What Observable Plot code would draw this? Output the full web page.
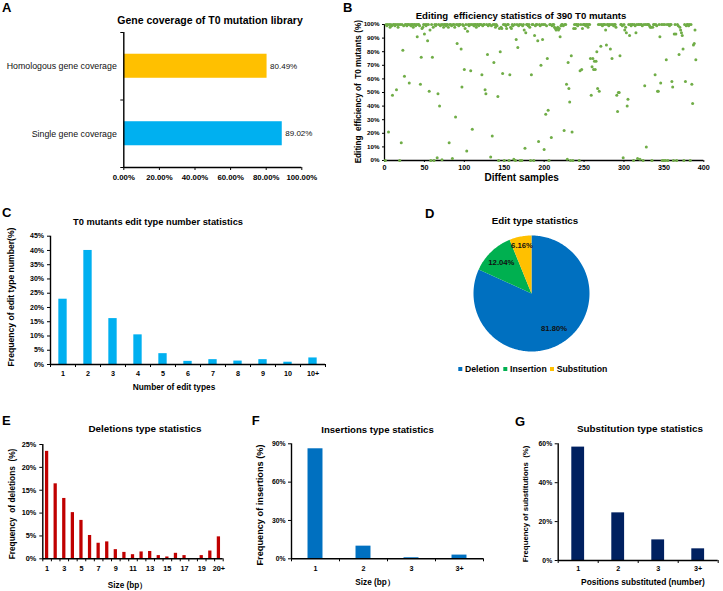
<!DOCTYPE html>
<html><head><meta charset="utf-8">
<script src="https://cdn.jsdelivr.net/npm/d3@7"></script>
<script src="https://cdn.jsdelivr.net/npm/@observablehq/plot@0.6"></script>
<style>
html,body{margin:0;padding:0;background:#fff;}
#fig{position:relative;width:723px;height:591px;overflow:hidden;background:#fff;}
</style></head><body><div id="fig"></div>
<script>
// ---------- DATA ----------
// A
const coverageCats = ["Homologous gene coverage", "Single gene coverage"];
const coverageVals = [0.8049, 0.8902];
const coverageColors = ["#FFC000", "#00B0F0"];
const coverageTicks = [0, 0.2, 0.4, 0.6, 0.8, 1.0];
// B (editing efficiency %, samples 1..390)
const efficiency = [
0,100,99,100,21,100,98,100,99,48, 100,100,99,100,52,100,98,100,0,100,
13,100,81,99,62,100,100,99,100,100, 57,100,99,100,100,98,100,100,99,100,
91,100,100,99,56,76,97,98,100,93, 100,99,100,88,100,51,96,0,100,76,
98,0,100,99,100,2,49,100,40,99, 100,0.5,100,98,100,100,99,100,100,98,
13,100,100,99,1.5,100,100,98,32,100, 86,100,99,100,100,82,54,100,99,67,
97,100,7,95,100,99,100,66,100,23, 100,99,100,100,98,100,100,99,100,100,
100,63,99,100,100,52,49,100,78,99, 100,100,2.5,99,18,100,72,100,98,100,
99,47,0,97,80,98,97,64,100,0, 100,99,97,100,100,0,63,98,97,100,
99,1,100,0,89,100,83,99,100,0, 100,0,99,100,96,9,94,100,100,99,
100,98,0,63,100,100,0,92,99,100, 100,88,14,100,99,70,100,89,100,8,
100,34,99,75,37,0,100,100,17,99, 100,100,98,97,96,97,98,96,97,91,
99,100,100,99,22,100,100,56,1,72, 53,43,0,77,21,0,97,100,97,100,
100,99,100,0,66,100,67,97,100,100, 100,99,100,100,98,100,100,75,48,69,
75,67,73,67,73,80,53,100,51,100, 84,100,99,100,100,100,96,85,100,100,
99,100,82,100,75,100,99,100,100,98, 48,36,50,50,77,100,100,99,2,100,
96,98,94,40,45,100,92,100,99,100, 100,0,100,99,94,100,1.5,100,100,1,
100,100,99,0,100,55,100,10,100,100, 100,99,98,98,0,98,100,100,63,100,
99,51,51,100,91,57,100,0,100,0, 100,0,74,100,0,100,99,100,100,58,
54,0,93,100,93,0,100,99,78,98, 96,94,92,82,0,100,58,99,100,100,
99,100,0,100,56,42,85,86,96,74
];
const sampleTicks = [0, 50, 100, 150, 200, 250, 300, 350, 400];
const effTicks = [0, 10, 20, 30, 40, 50, 60, 70, 80, 90, 100];
// C
const editTypeCats = ["1","2","3","4","5","6","7","8","9","10","10+"];
const editTypeFreq = [22.9, 40.0, 16.1, 10.4, 3.8, 1.1, 1.7, 1.2, 1.7, 0.8, 2.3];
const editTypeTicks = [0, 5, 10, 15, 20, 25, 30, 35, 40, 45];
// D
const editTypes = ["Deletion", "Insertion", "Substitution"];
const editShares = [81.80, 12.04, 6.16];
const editColors = ["#0070C0", "#00B050", "#FFC000"];
// E
const deletionCats = ["1","2","3","4","5","6","7","8","9","10","11","12","13","14","15","16","17","18","19","20","20+"];
const deletionFreq = [23.5,16.4,13.2,10.1,8.4,5.1,3.4,3.7,2.0,1.4,0.9,1.5,1.6,0.7,0.4,1.2,0.7,0,0.7,1.7,4.8];
const deletionTicks = [0, 5, 10, 15, 20, 25];
// F
const insertionCats = ["1","2","3","3+"];
const insertionFreq = [86.1, 9.9, 0.8, 2.9];
const insertionTicks = [0, 30, 60, 90];
// G
const substitutionCats = ["1","2","3","3+"];
const substitutionFreq = [58.3, 24.5, 10.6, 6.0];
const substitutionTicks = [0, 20, 40, 60];

// ---------- HELPERS ----------
const fig = document.getElementById("fig");
const FONT = '"Liberation Sans", Arial, Helvetica, sans-serif';
function plotStyle(size) {
  return `background:transparent;font-family:${FONT};font-weight:bold;font-size:${size}px;color:#000;overflow:visible;`;
}
function place(el, left, top) {
  el.style.position = "absolute";
  el.style.left = left + "px";
  el.style.top = top + "px";
  el.style.maxWidth = "none";
  fig.appendChild(el);
}
const pct = d => d + "%";

// category bar chart with Excel-like boundary ticks
function barPanel({cats, vals, yTicks, color, half, width, height, ml, mr, mt, mb, labelEvery = 1, yPad, xPad, yFont, xFont}) {
  const rows = vals.map((v, i) => ({v, i}));
  const n = cats.length;
  const labelPos = d3.range(0, n, labelEvery).map(i => i + 0.5);
  return Plot.plot({
    width, height, marginLeft: ml, marginRight: mr, marginTop: mt, marginBottom: mb,
    style: plotStyle(7),
    x: {domain: [0, n]},
    y: {domain: [0, yTicks[yTicks.length - 1]]},
    marks: [
      Plot.rectY(rows, {x1: d => d.i + 0.5 - half, x2: d => d.i + 0.5 + half, y1: 0, y2: "v", fill: color}),
      Plot.axisY({ticks: yTicks, tickFormat: pct, tickSize: 3, tickPadding: yPad, label: null, fontSize: yFont}),
      Plot.axisX({ticks: d3.range(n + 1), tickFormat: () => "", tickSize: 3, label: null}),
      Plot.axisX({ticks: labelPos, tickFormat: p => cats[Math.floor(p)], tickSize: 0, tickPadding: xPad, label: null, fontSize: xFont}),
      Plot.ruleX([0], {strokeWidth: 1.4}),
      Plot.ruleY([0], {strokeWidth: 1.4})
    ]
  });
}

// ---------- PANEL A ----------
const aRows = coverageCats.map((c, k) => ({cat: c, v: coverageVals[k], color: coverageColors[k], i: coverageCats.length - 1 - k}));
place(Plot.plot({
  width: 340, height: 190, marginLeft: 123.3, marginRight: 38.7, marginTop: 32, marginBottom: 23,
  style: plotStyle(7.8),
  x: {domain: [0, 1]}, y: {domain: [0, coverageCats.length]}, color: {type: "identity"},
  marks: [
    Plot.rect(aRows, {x1: 0, x2: "v", y1: d => d.i + 0.5 - 0.178, y2: d => d.i + 0.5 + 0.178, fill: "color"}),
    Plot.axisX({ticks: coverageTicks, tickFormat: d3.format(".2%"), tickSize: 3, tickPadding: 4, label: null}),
    Plot.axisY({ticks: d3.range(coverageCats.length + 1), tickFormat: () => "", tickSize: 3, label: null}),
    Plot.ruleX([0], {strokeWidth: 1.4}),
    Plot.ruleY([0], {strokeWidth: 1.4}),
    Plot.text(aRows, {x: 0, y: d => d.i + 0.5, text: "cat", textAnchor: "end", dx: -7, fontSize: 8.8, fontWeight: "normal", fill: "#111"}),
    Plot.text(aRows, {x: "v", y: d => d.i + 0.5, text: d => d3.format(".2%")(d.v), textAnchor: "start", dx: 3, fontSize: 8, fontWeight: "normal", fill: "#111"})
  ]
}), 0, 0);

// ---------- PANEL B ----------
place(Plot.plot({
  width: 383, height: 190, marginLeft: 44, marginRight: 19.7, marginTop: 24, marginBottom: 30,
  style: plotStyle(7),
  x: {domain: [0, 400]}, y: {domain: [0, 100]},
  marks: [
    Plot.axisX({ticks: sampleTicks, tickSize: 2, tickPadding: 2, label: null, fontSize: 7.2}),
    Plot.axisY({ticks: effTicks, tickFormat: pct, tickSize: 2, tickPadding: 3, label: null, fontSize: 6.2}),
    Plot.ruleX([0], {strokeWidth: 1.3}),
    Plot.ruleY([0], {strokeWidth: 1.3}),
    Plot.dot(efficiency, {x: (d, i) => i + 1, y: d => d, r: 1.5, fill: "#70AD47"})
  ]
}), 340, 0);

// ---------- PANEL C ----------
place(barPanel({cats: editTypeCats, vals: editTypeFreq, yTicks: editTypeTicks, color: "#00B0F0", half: 0.167,
  width: 340, height: 200, ml: 50, mr: 15, mt: 40.7, mb: 31, yPad: 3.5, xPad: 6.5, yFont: 7, xFont: 7.2}), 0, 195);

// ---------- PANEL D (pie) ----------
const pieArcs = d3.pie().sort(null).value(d => d.share)(editTypes.map((t, k) => ({type: t, share: editShares[k], color: editColors[k]})));
const sliceMarks = pieArcs.map(p => {
  const steps = Math.max(4, Math.ceil((p.endAngle - p.startAngle) / 0.02));
  const pts = [{x: 0, y: 0}];
  for (let s = 0; s <= steps; s++) {
    const a = p.startAngle + (p.endAngle - p.startAngle) * s / steps;
    pts.push({x: Math.sin(a), y: Math.cos(a)});
  }
  pts.push({x: 0, y: 0});
  return Plot.line(pts, {x: "x", y: "y", fill: p.data.color, stroke: "none"});
});
const labelR = [0.72, 0.75, 0.85];
place(Plot.plot({
  width: 122, height: 122, margin: 3,
  style: plotStyle(7.7),
  x: {domain: [-1, 1], axis: null}, y: {domain: [-1, 1], axis: null},
  marks: [
    ...sliceMarks,
    Plot.text(pieArcs, {
      x: (p, k) => labelR[k] * Math.sin((p.startAngle + p.endAngle) / 2),
      y: (p, k) => labelR[k] * Math.cos((p.startAngle + p.endAngle) / 2),
      text: p => p.data.share.toFixed(2) + "%", fontSize: 7.7, fontWeight: "bold", fill: "#111"
    })
  ]
}), 470, 232);

// ---------- PANEL E ----------
place(barPanel({cats: deletionCats, vals: deletionFreq, yTicks: deletionTicks, color: "#C00000", half: 0.19,
  width: 232, height: 186, ml: 42.3, mr: 9.3, mt: 39, mb: 32.7, labelEvery: 2, yPad: 3.5, xPad: 6.7, yFont: 7.3, xFont: 7.3}), 0, 405);

// ---------- PANEL F ----------
place(barPanel({cats: insertionCats, vals: insertionFreq, yTicks: insertionTicks, color: "#0070C0", half: 0.156,
  width: 255, height: 186, ml: 59, mr: 4, mt: 38.3, mb: 32.7, yPad: 3, xPad: 7, yFont: 6.8, xFont: 7.2}), 232, 405);

// ---------- PANEL G ----------
place(barPanel({cats: substitutionCats, vals: substitutionFreq, yTicks: substitutionTicks, color: "#002060", half: 0.16,
  width: 236, height: 186, ml: 70.7, mr: 5.3, mt: 38.3, mb: 31, yPad: 3, xPad: 5.5, yFont: 6.8, xFont: 7.2}), 487, 405);

// ---------- TEXT OVERLAY ----------
const ov = d3.create("svg").attr("width", 723).attr("height", 591)
  .style("position", "absolute").style("left", "0px").style("top", "0px")
  .style("pointer-events", "none").style("font-family", FONT);
function txt(s, x, y, size, o = {}) {
  const t = ov.append("text").attr("x", x).attr("y", y).attr("font-size", size)
    .attr("font-weight", o.weight || "bold").attr("text-anchor", o.anchor || "middle")
    .attr("dominant-baseline", "central").attr("fill", o.fill || "#000")
    .style("white-space", "pre").text(s);
  if (o.rotate) t.attr("transform", `rotate(-90 ${x} ${y})`);
  return t;
}
// panel letters
[["A", 2, 7.5], ["B", 343, 7.5], ["C", 2, 212.5], ["D", 425, 213], ["E", 2, 420.5], ["F", 251.7, 420.5], ["G", 515, 421.3]]
  .forEach(([s, x, y]) => txt(s, x, y, 13, {anchor: "start"}));
// titles
txt("Gene coverage of T0 mutation library", 210, 20, 10.5);
txt("Editing  efficiency statistics of 390 T0 mutants", 521, 15, 9.6);
txt("T0 mutants edit type number statistics", 158, 221.7, 9.3);
txt("Edit type statistics", 535, 220.7, 9.8);
txt("Deletions type statistics", 145, 428, 9.9);
txt("Insertions type statistics", 377.5, 429, 9.6);
txt("Substitution type statistics", 640, 428.3, 9.9);
// axis titles
txt("Editing  efficiency of  T0 mutants (%)", 358.3, 91.7, 8.2, {rotate: true});
txt("Diffent samples", 521.7, 177.3, 10);
txt("Frequency of edit type number(%)", 11.2, 297, 8.6, {rotate: true});
txt("Number of edit types", 174, 387, 8.3);
txt("Frequency  of deletions  (%)", 11.7, 504, 8.3, {rotate: true});
txt("Size (bp）", 127.5, 585, 8.2);
txt("Frequency of insertions (%)", 260, 505, 9.2, {rotate: true});
txt("Size (bp）", 375, 582.7, 8.2);
txt("Frequency of substitutions  (%)", 525.8, 504, 7.8, {rotate: true});
txt("Positions substituted (number)", 643, 582, 8.4);
// legend for D
const legX = [458.3, 503.3, 550];
editTypes.forEach((t, k) => {
  ov.append("rect").attr("x", legX[k]).attr("y", 367).attr("width", 4).attr("height", 4).attr("fill", editColors[k]);
  txt(t, legX[k] + 6.7, 369, 8.7, {anchor: "start"});
});
fig.appendChild(ov.node());
</script></body></html>
